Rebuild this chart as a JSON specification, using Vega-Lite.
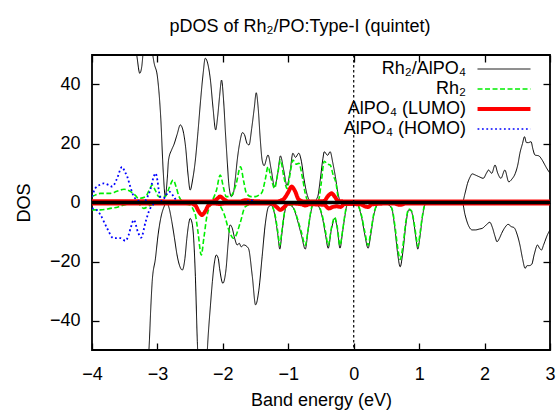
{
  "$schema": "https://vega.github.io/schema/vega-lite/v6.json",
  "width": 458,
  "height": 295,
  "autosize": "none",
  "padding": {"left": 92, "top": 55, "right": 8, "bottom": 60},
  "background": "white",
  "config": {
    "font": "Liberation Sans",
    "view": {"stroke": "black", "strokeWidth": 1.8},
    "axis": {
      "grid": false, "domain": false, "tickColor": "black", "tickSize": -7, "tickWidth": 1.3,
      "labelFont": "Liberation Sans", "labelFontSize": 18, "labelColor": "black",
      "titleFont": "Liberation Sans", "titleFontSize": 18, "titleFontWeight": "normal", "titleColor": "black"
    },
    "legend": {
      "orient": "none", "legendX": 403, "legendY": 5, "padding": 0,
      "labelFont": "Liberation Sans", "labelFontSize": 18, "labelColor": "black",
      "labelAlign": "right", "labelOffset": -47, "labelLimit": 400,
      "symbolType": "M-5,0H5", "symbolSize": 112, "rowPadding": 2, "title": null
    }
  },
  "title": {"text": "pDOS of Rh₂/PO:Type-I (quintet)", "fontSize": 18, "fontWeight": "normal", "font": "Liberation Sans", "color": "black", "anchor": "middle", "dx": -21, "baseline": "alphabetic", "offset": 4},
  "resolve": {"axis": {"x": "independent", "y": "independent"}},
  "datasets": {
    "dos": [
      {"s":"Rh₂/AlPO₄","p":"u","x":-4,"y":70},{"s":"Rh₂/AlPO₄","p":"u","x":-3.6,"y":70},{"s":"Rh₂/AlPO₄","p":"u","x":-3.36,"y":58},{"s":"Rh₂/AlPO₄","p":"u","x":-3.31,"y":49},{"s":"Rh₂/AlPO₄","p":"u","x":-3.27,"y":43.8},{"s":"Rh₂/AlPO₄","p":"u","x":-3.24,"y":46},{"s":"Rh₂/AlPO₄","p":"u","x":-3.21,"y":53},{"s":"Rh₂/AlPO₄","p":"u","x":-3.16,"y":60},{"s":"Rh₂/AlPO₄","p":"u","x":-3.1,"y":54},{"s":"Rh₂/AlPO₄","p":"u","x":-3.05,"y":47.2},{"s":"Rh₂/AlPO₄","p":"u","x":-3.0,"y":42.6},{"s":"Rh₂/AlPO₄","p":"u","x":-2.95,"y":29},{"s":"Rh₂/AlPO₄","p":"u","x":-2.91,"y":10},{"s":"Rh₂/AlPO₄","p":"u","x":-2.88,"y":2},{"s":"Rh₂/AlPO₄","p":"u","x":-2.85,"y":8},{"s":"Rh₂/AlPO₄","p":"u","x":-2.83,"y":14.4},{"s":"Rh₂/AlPO₄","p":"u","x":-2.78,"y":18},{"s":"Rh₂/AlPO₄","p":"u","x":-2.75,"y":19.5},{"s":"Rh₂/AlPO₄","p":"u","x":-2.7,"y":23},{"s":"Rh₂/AlPO₄","p":"u","x":-2.65,"y":26.3},{"s":"Rh₂/AlPO₄","p":"u","x":-2.6,"y":23.5},{"s":"Rh₂/AlPO₄","p":"u","x":-2.57,"y":18.9},{"s":"Rh₂/AlPO₄","p":"u","x":-2.53,"y":9},{"s":"Rh₂/AlPO₄","p":"u","x":-2.5,"y":4.2},{"s":"Rh₂/AlPO₄","p":"u","x":-2.46,"y":8},{"s":"Rh₂/AlPO₄","p":"u","x":-2.42,"y":14.4},{"s":"Rh₂/AlPO₄","p":"u","x":-2.38,"y":24},{"s":"Rh₂/AlPO₄","p":"u","x":-2.34,"y":34.7},{"s":"Rh₂/AlPO₄","p":"u","x":-2.3,"y":44},{"s":"Rh₂/AlPO₄","p":"u","x":-2.27,"y":48.9},{"s":"Rh₂/AlPO₄","p":"u","x":-2.23,"y":47},{"s":"Rh₂/AlPO₄","p":"u","x":-2.19,"y":41.5},{"s":"Rh₂/AlPO₄","p":"u","x":-2.15,"y":32},{"s":"Rh₂/AlPO₄","p":"u","x":-2.11,"y":24.6},{"s":"Rh₂/AlPO₄","p":"u","x":-2.08,"y":29},{"s":"Rh₂/AlPO₄","p":"u","x":-2.05,"y":36},{"s":"Rh₂/AlPO₄","p":"u","x":-2.02,"y":41.5},{"s":"Rh₂/AlPO₄","p":"u","x":-1.99,"y":35},{"s":"Rh₂/AlPO₄","p":"u","x":-1.96,"y":23.5},{"s":"Rh₂/AlPO₄","p":"u","x":-1.93,"y":13},{"s":"Rh₂/AlPO₄","p":"u","x":-1.91,"y":6.5},{"s":"Rh₂/AlPO₄","p":"u","x":-1.87,"y":2},{"s":"Rh₂/AlPO₄","p":"u","x":-1.84,"y":3},{"s":"Rh₂/AlPO₄","p":"u","x":-1.81,"y":8},{"s":"Rh₂/AlPO₄","p":"u","x":-1.78,"y":14.4},{"s":"Rh₂/AlPO₄","p":"u","x":-1.74,"y":20.5},{"s":"Rh₂/AlPO₄","p":"u","x":-1.7,"y":23.7},{"s":"Rh₂/AlPO₄","p":"u","x":-1.67,"y":23},{"s":"Rh₂/AlPO₄","p":"u","x":-1.63,"y":20},{"s":"Rh₂/AlPO₄","p":"u","x":-1.6,"y":19.5},{"s":"Rh₂/AlPO₄","p":"u","x":-1.56,"y":25},{"s":"Rh₂/AlPO₄","p":"u","x":-1.52,"y":32},{"s":"Rh₂/AlPO₄","p":"u","x":-1.49,"y":37.2},{"s":"Rh₂/AlPO₄","p":"u","x":-1.46,"y":32},{"s":"Rh₂/AlPO₄","p":"u","x":-1.43,"y":22},{"s":"Rh₂/AlPO₄","p":"u","x":-1.4,"y":14.4},{"s":"Rh₂/AlPO₄","p":"u","x":-1.37,"y":12.5},{"s":"Rh₂/AlPO₄","p":"u","x":-1.31,"y":16.1},{"s":"Rh₂/AlPO₄","p":"u","x":-1.26,"y":11},{"s":"Rh₂/AlPO₄","p":"u","x":-1.21,"y":5.4},{"s":"Rh₂/AlPO₄","p":"u","x":-1.16,"y":10},{"s":"Rh₂/AlPO₄","p":"u","x":-1.12,"y":15.8},{"s":"Rh₂/AlPO₄","p":"u","x":-1.07,"y":11},{"s":"Rh₂/AlPO₄","p":"u","x":-1.02,"y":5.8},{"s":"Rh₂/AlPO₄","p":"u","x":-0.97,"y":11},{"s":"Rh₂/AlPO₄","p":"u","x":-0.93,"y":16.7},{"s":"Rh₂/AlPO₄","p":"u","x":-0.89,"y":15.3},{"s":"Rh₂/AlPO₄","p":"u","x":-0.84,"y":16.7},{"s":"Rh₂/AlPO₄","p":"u","x":-0.8,"y":14},{"s":"Rh₂/AlPO₄","p":"u","x":-0.76,"y":8},{"s":"Rh₂/AlPO₄","p":"u","x":-0.71,"y":2.5},{"s":"Rh₂/AlPO₄","p":"u","x":-0.66,"y":0.5},{"s":"Rh₂/AlPO₄","p":"u","x":-0.6,"y":0.5},{"s":"Rh₂/AlPO₄","p":"u","x":-0.55,"y":2},{"s":"Rh₂/AlPO₄","p":"u","x":-0.51,"y":8},{"s":"Rh₂/AlPO₄","p":"u","x":-0.47,"y":15},{"s":"Rh₂/AlPO₄","p":"u","x":-0.45,"y":17.2},{"s":"Rh₂/AlPO₄","p":"u","x":-0.4,"y":16},{"s":"Rh₂/AlPO₄","p":"u","x":-0.36,"y":17.2},{"s":"Rh₂/AlPO₄","p":"u","x":-0.32,"y":13.5},{"s":"Rh₂/AlPO₄","p":"u","x":-0.28,"y":8.7},{"s":"Rh₂/AlPO₄","p":"u","x":-0.24,"y":3},{"s":"Rh₂/AlPO₄","p":"u","x":-0.2,"y":0.3},{"s":"Rh₂/AlPO₄","p":"u","x":-0.1,"y":0},{"s":"Rh₂/AlPO₄","p":"u","x":1.66,"y":0},{"s":"Rh₂/AlPO₄","p":"u","x":1.7,"y":3},{"s":"Rh₂/AlPO₄","p":"u","x":1.74,"y":6.5},{"s":"Rh₂/AlPO₄","p":"u","x":1.78,"y":8.7},{"s":"Rh₂/AlPO₄","p":"u","x":1.81,"y":9.7},{"s":"Rh₂/AlPO₄","p":"u","x":1.86,"y":9.3},{"s":"Rh₂/AlPO₄","p":"u","x":1.92,"y":8.7},{"s":"Rh₂/AlPO₄","p":"u","x":1.98,"y":8.2},{"s":"Rh₂/AlPO₄","p":"u","x":2.03,"y":10},{"s":"Rh₂/AlPO₄","p":"u","x":2.06,"y":11},{"s":"Rh₂/AlPO₄","p":"u","x":2.11,"y":9.9},{"s":"Rh₂/AlPO₄","p":"u","x":2.16,"y":12.7},{"s":"Rh₂/AlPO₄","p":"u","x":2.2,"y":10},{"s":"Rh₂/AlPO₄","p":"u","x":2.25,"y":8.2},{"s":"Rh₂/AlPO₄","p":"u","x":2.31,"y":11},{"s":"Rh₂/AlPO₄","p":"u","x":2.37,"y":7},{"s":"Rh₂/AlPO₄","p":"u","x":2.42,"y":8},{"s":"Rh₂/AlPO₄","p":"u","x":2.47,"y":9.9},{"s":"Rh₂/AlPO₄","p":"u","x":2.51,"y":13},{"s":"Rh₂/AlPO₄","p":"u","x":2.54,"y":16.7},{"s":"Rh₂/AlPO₄","p":"u","x":2.58,"y":20},{"s":"Rh₂/AlPO₄","p":"u","x":2.61,"y":22.3},{"s":"Rh₂/AlPO₄","p":"u","x":2.64,"y":20.3},{"s":"Rh₂/AlPO₄","p":"u","x":2.67,"y":20.3},{"s":"Rh₂/AlPO₄","p":"u","x":2.71,"y":20.6},{"s":"Rh₂/AlPO₄","p":"u","x":2.74,"y":18},{"s":"Rh₂/AlPO₄","p":"u","x":2.77,"y":16.1},{"s":"Rh₂/AlPO₄","p":"u","x":2.83,"y":15.8},{"s":"Rh₂/AlPO₄","p":"u","x":2.88,"y":14.4},{"s":"Rh₂/AlPO₄","p":"u","x":2.92,"y":12.8},{"s":"Rh₂/AlPO₄","p":"u","x":2.95,"y":11.6},{"s":"Rh₂/AlPO₄","p":"u","x":3.0,"y":9.9},

      {"s":"Rh₂/AlPO₄","p":"d","x":-4,"y":-70},{"s":"Rh₂/AlPO₄","p":"d","x":-3.5,"y":-70},{"s":"Rh₂/AlPO₄","p":"d","x":-3.2,"y":-65},{"s":"Rh₂/AlPO₄","p":"d","x":-3.15,"y":-55},{"s":"Rh₂/AlPO₄","p":"d","x":-3.13,"y":-50},{"s":"Rh₂/AlPO₄","p":"d","x":-3.1,"y":-35},{"s":"Rh₂/AlPO₄","p":"d","x":-3.08,"y":-26.8},{"s":"Rh₂/AlPO₄","p":"d","x":-3.03,"y":-18.9},{"s":"Rh₂/AlPO₄","p":"d","x":-2.99,"y":-11},{"s":"Rh₂/AlPO₄","p":"d","x":-2.95,"y":-5.4},{"s":"Rh₂/AlPO₄","p":"d","x":-2.9,"y":-1.5},{"s":"Rh₂/AlPO₄","p":"d","x":-2.86,"y":0},{"s":"Rh₂/AlPO₄","p":"d","x":-2.82,"y":-2},{"s":"Rh₂/AlPO₄","p":"d","x":-2.78,"y":-6.5},{"s":"Rh₂/AlPO₄","p":"d","x":-2.74,"y":-12},{"s":"Rh₂/AlPO₄","p":"d","x":-2.7,"y":-17.8},{"s":"Rh₂/AlPO₄","p":"d","x":-2.66,"y":-21.5},{"s":"Rh₂/AlPO₄","p":"d","x":-2.62,"y":-22.9},{"s":"Rh₂/AlPO₄","p":"d","x":-2.58,"y":-19},{"s":"Rh₂/AlPO₄","p":"d","x":-2.55,"y":-12.1},{"s":"Rh₂/AlPO₄","p":"d","x":-2.52,"y":-7},{"s":"Rh₂/AlPO₄","p":"d","x":-2.5,"y":-5.4},{"s":"Rh₂/AlPO₄","p":"d","x":-2.47,"y":-7},{"s":"Rh₂/AlPO₄","p":"d","x":-2.45,"y":-11},{"s":"Rh₂/AlPO₄","p":"d","x":-2.42,"y":-25},{"s":"Rh₂/AlPO₄","p":"d","x":-2.39,"y":-47.2},{"s":"Rh₂/AlPO₄","p":"d","x":-2.36,"y":-60},{"s":"Rh₂/AlPO₄","p":"d","x":-2.3,"y":-70},{"s":"Rh₂/AlPO₄","p":"d","x":-2.26,"y":-60},{"s":"Rh₂/AlPO₄","p":"d","x":-2.23,"y":-47.2},{"s":"Rh₂/AlPO₄","p":"d","x":-2.19,"y":-35},{"s":"Rh₂/AlPO₄","p":"d","x":-2.16,"y":-26.8},{"s":"Rh₂/AlPO₄","p":"d","x":-2.13,"y":-20.5},{"s":"Rh₂/AlPO₄","p":"d","x":-2.1,"y":-17.8},{"s":"Rh₂/AlPO₄","p":"d","x":-2.07,"y":-19},{"s":"Rh₂/AlPO₄","p":"d","x":-2.05,"y":-22.3},{"s":"Rh₂/AlPO₄","p":"d","x":-2.0,"y":-27.4},{"s":"Rh₂/AlPO₄","p":"d","x":-1.97,"y":-25.5},{"s":"Rh₂/AlPO₄","p":"d","x":-1.95,"y":-22.3},{"s":"Rh₂/AlPO₄","p":"d","x":-1.92,"y":-14},{"s":"Rh₂/AlPO₄","p":"d","x":-1.89,"y":-7.6},{"s":"Rh₂/AlPO₄","p":"d","x":-1.86,"y":-8.5},{"s":"Rh₂/AlPO₄","p":"d","x":-1.82,"y":-12.1},{"s":"Rh₂/AlPO₄","p":"d","x":-1.78,"y":-14.4},{"s":"Rh₂/AlPO₄","p":"d","x":-1.75,"y":-13.8},{"s":"Rh₂/AlPO₄","p":"d","x":-1.72,"y":-15},{"s":"Rh₂/AlPO₄","p":"d","x":-1.68,"y":-14.4},{"s":"Rh₂/AlPO₄","p":"d","x":-1.61,"y":-15.5},{"s":"Rh₂/AlPO₄","p":"d","x":-1.55,"y":-25},{"s":"Rh₂/AlPO₄","p":"d","x":-1.5,"y":-34.7},{"s":"Rh₂/AlPO₄","p":"d","x":-1.45,"y":-29.7},{"s":"Rh₂/AlPO₄","p":"d","x":-1.4,"y":-18.4},{"s":"Rh₂/AlPO₄","p":"d","x":-1.35,"y":-7},{"s":"Rh₂/AlPO₄","p":"d","x":-1.3,"y":-1.4},{"s":"Rh₂/AlPO₄","p":"d","x":-1.26,"y":-1},{"s":"Rh₂/AlPO₄","p":"d","x":-1.2,"y":-5},{"s":"Rh₂/AlPO₄","p":"d","x":-1.16,"y":-11},{"s":"Rh₂/AlPO₄","p":"d","x":-1.13,"y":-15.8},{"s":"Rh₂/AlPO₄","p":"d","x":-1.1,"y":-11},{"s":"Rh₂/AlPO₄","p":"d","x":-1.06,"y":-4},{"s":"Rh₂/AlPO₄","p":"d","x":-1.02,"y":-0.8},{"s":"Rh₂/AlPO₄","p":"d","x":-0.96,"y":-1},{"s":"Rh₂/AlPO₄","p":"d","x":-0.9,"y":-3},{"s":"Rh₂/AlPO₄","p":"d","x":-0.86,"y":-6},{"s":"Rh₂/AlPO₄","p":"d","x":-0.8,"y":-11},{"s":"Rh₂/AlPO₄","p":"d","x":-0.74,"y":-15.8},{"s":"Rh₂/AlPO₄","p":"d","x":-0.7,"y":-10},{"s":"Rh₂/AlPO₄","p":"d","x":-0.66,"y":-4},{"s":"Rh₂/AlPO₄","p":"d","x":-0.62,"y":-0.5},{"s":"Rh₂/AlPO₄","p":"d","x":-0.55,"y":-1},{"s":"Rh₂/AlPO₄","p":"d","x":-0.48,"y":-5},{"s":"Rh₂/AlPO₄","p":"d","x":-0.43,"y":-11},{"s":"Rh₂/AlPO₄","p":"d","x":-0.39,"y":-15.5},{"s":"Rh₂/AlPO₄","p":"d","x":-0.34,"y":-9},{"s":"Rh₂/AlPO₄","p":"d","x":-0.29,"y":-5.4},{"s":"Rh₂/AlPO₄","p":"d","x":-0.25,"y":-9},{"s":"Rh₂/AlPO₄","p":"d","x":-0.21,"y":-15.5},{"s":"Rh₂/AlPO₄","p":"d","x":-0.17,"y":-10},{"s":"Rh₂/AlPO₄","p":"d","x":-0.13,"y":-4},{"s":"Rh₂/AlPO₄","p":"d","x":-0.1,"y":-0.8},{"s":"Rh₂/AlPO₄","p":"d","x":0.05,"y":-0.8},{"s":"Rh₂/AlPO₄","p":"d","x":0.12,"y":-5},{"s":"Rh₂/AlPO₄","p":"d","x":0.17,"y":-11},{"s":"Rh₂/AlPO₄","p":"d","x":0.22,"y":-15.5},{"s":"Rh₂/AlPO₄","p":"d","x":0.26,"y":-11},{"s":"Rh₂/AlPO₄","p":"d","x":0.31,"y":-4},{"s":"Rh₂/AlPO₄","p":"d","x":0.38,"y":-0.5},{"s":"Rh₂/AlPO₄","p":"d","x":0.5,"y":-0.5},{"s":"Rh₂/AlPO₄","p":"d","x":0.58,"y":-2},{"s":"Rh₂/AlPO₄","p":"d","x":0.63,"y":-9},{"s":"Rh₂/AlPO₄","p":"d","x":0.67,"y":-17},{"s":"Rh₂/AlPO₄","p":"d","x":0.71,"y":-21.8},{"s":"Rh₂/AlPO₄","p":"d","x":0.75,"y":-17},{"s":"Rh₂/AlPO₄","p":"d","x":0.8,"y":-7},{"s":"Rh₂/AlPO₄","p":"d","x":0.84,"y":-2.5},{"s":"Rh₂/AlPO₄","p":"d","x":0.88,"y":-3},{"s":"Rh₂/AlPO₄","p":"d","x":0.92,"y":-7},{"s":"Rh₂/AlPO₄","p":"d","x":0.95,"y":-12},{"s":"Rh₂/AlPO₄","p":"d","x":0.98,"y":-15.8},{"s":"Rh₂/AlPO₄","p":"d","x":1.01,"y":-12},{"s":"Rh₂/AlPO₄","p":"d","x":1.05,"y":-5},{"s":"Rh₂/AlPO₄","p":"d","x":1.09,"y":-0.8},{"s":"Rh₂/AlPO₄","p":"d","x":1.15,"y":0},{"s":"Rh₂/AlPO₄","p":"d","x":1.66,"y":0},{"s":"Rh₂/AlPO₄","p":"d","x":1.7,"y":-4},{"s":"Rh₂/AlPO₄","p":"d","x":1.75,"y":-7.6},{"s":"Rh₂/AlPO₄","p":"d","x":1.81,"y":-9.3},{"s":"Rh₂/AlPO₄","p":"d","x":1.86,"y":-9.3},{"s":"Rh₂/AlPO₄","p":"d","x":1.92,"y":-9},{"s":"Rh₂/AlPO₄","p":"d","x":1.97,"y":-8.7},{"s":"Rh₂/AlPO₄","p":"d","x":2.03,"y":-7.5},{"s":"Rh₂/AlPO₄","p":"d","x":2.08,"y":-6.7},{"s":"Rh₂/AlPO₄","p":"d","x":2.12,"y":-8.5},{"s":"Rh₂/AlPO₄","p":"d","x":2.16,"y":-11.5},{"s":"Rh₂/AlPO₄","p":"d","x":2.19,"y":-13.3},{"s":"Rh₂/AlPO₄","p":"d","x":2.23,"y":-12},{"s":"Rh₂/AlPO₄","p":"d","x":2.26,"y":-10.5},{"s":"Rh₂/AlPO₄","p":"d","x":2.31,"y":-8.5},{"s":"Rh₂/AlPO₄","p":"d","x":2.36,"y":-7.4},{"s":"Rh₂/AlPO₄","p":"d","x":2.41,"y":-8.2},{"s":"Rh₂/AlPO₄","p":"d","x":2.45,"y":-8.5},{"s":"Rh₂/AlPO₄","p":"d","x":2.5,"y":-11},{"s":"Rh₂/AlPO₄","p":"d","x":2.54,"y":-14.4},{"s":"Rh₂/AlPO₄","p":"d","x":2.58,"y":-19},{"s":"Rh₂/AlPO₄","p":"d","x":2.62,"y":-22.3},{"s":"Rh₂/AlPO₄","p":"d","x":2.65,"y":-21.4},{"s":"Rh₂/AlPO₄","p":"d","x":2.68,"y":-21.4},{"s":"Rh₂/AlPO₄","p":"d","x":2.72,"y":-21},{"s":"Rh₂/AlPO₄","p":"d","x":2.76,"y":-17.5},{"s":"Rh₂/AlPO₄","p":"d","x":2.81,"y":-14.4},{"s":"Rh₂/AlPO₄","p":"d","x":2.84,"y":-15.5},{"s":"Rh₂/AlPO₄","p":"d","x":2.87,"y":-16.1},{"s":"Rh₂/AlPO₄","p":"d","x":2.9,"y":-14.5},{"s":"Rh₂/AlPO₄","p":"d","x":2.92,"y":-13.3},{"s":"Rh₂/AlPO₄","p":"d","x":2.96,"y":-11},{"s":"Rh₂/AlPO₄","p":"d","x":3.0,"y":-9.3},

      {"s":"Rh₂","p":"u","x":-4,"y":2},{"s":"Rh₂","p":"u","x":-3.95,"y":2.5},{"s":"Rh₂","p":"u","x":-3.87,"y":3.1},{"s":"Rh₂","p":"u","x":-3.72,"y":3.1},{"s":"Rh₂","p":"u","x":-3.62,"y":3.8},{"s":"Rh₂","p":"u","x":-3.51,"y":4.5},{"s":"Rh₂","p":"u","x":-3.41,"y":3.7},{"s":"Rh₂","p":"u","x":-3.34,"y":2.5},{"s":"Rh₂","p":"u","x":-3.29,"y":1.4},{"s":"Rh₂","p":"u","x":-3.18,"y":2},{"s":"Rh₂","p":"u","x":-3.13,"y":4},{"s":"Rh₂","p":"u","x":-3.08,"y":5.9},{"s":"Rh₂","p":"u","x":-3.03,"y":4},{"s":"Rh₂","p":"u","x":-2.98,"y":2},{"s":"Rh₂","p":"u","x":-2.88,"y":2},{"s":"Rh₂","p":"u","x":-2.82,"y":5},{"s":"Rh₂","p":"u","x":-2.76,"y":7.6},{"s":"Rh₂","p":"u","x":-2.71,"y":5},{"s":"Rh₂","p":"u","x":-2.67,"y":2},{"s":"Rh₂","p":"u","x":-2.6,"y":0.3},{"s":"Rh₂","p":"u","x":-2.3,"y":0.3},{"s":"Rh₂","p":"u","x":-2.18,"y":0.6},{"s":"Rh₂","p":"u","x":-2.1,"y":4},{"s":"Rh₂","p":"u","x":-2.04,"y":9.3},{"s":"Rh₂","p":"u","x":-1.99,"y":5},{"s":"Rh₂","p":"u","x":-1.95,"y":2},{"s":"Rh₂","p":"u","x":-1.89,"y":2},{"s":"Rh₂","p":"u","x":-1.8,"y":6},{"s":"Rh₂","p":"u","x":-1.73,"y":12.1},{"s":"Rh₂","p":"u","x":-1.68,"y":7},{"s":"Rh₂","p":"u","x":-1.64,"y":3.1},{"s":"Rh₂","p":"u","x":-1.57,"y":2},{"s":"Rh₂","p":"u","x":-1.5,"y":2},{"s":"Rh₂","p":"u","x":-1.45,"y":2.5},{"s":"Rh₂","p":"u","x":-1.4,"y":3.5},{"s":"Rh₂","p":"u","x":-1.35,"y":8},{"s":"Rh₂","p":"u","x":-1.31,"y":12.1},{"s":"Rh₂","p":"u","x":-1.26,"y":8},{"s":"Rh₂","p":"u","x":-1.21,"y":4.8},{"s":"Rh₂","p":"u","x":-1.16,"y":10},{"s":"Rh₂","p":"u","x":-1.12,"y":14.4},{"s":"Rh₂","p":"u","x":-1.07,"y":9},{"s":"Rh₂","p":"u","x":-1.02,"y":4.8},{"s":"Rh₂","p":"u","x":-0.97,"y":10},{"s":"Rh₂","p":"u","x":-0.93,"y":14.4},{"s":"Rh₂","p":"u","x":-0.88,"y":13},{"s":"Rh₂","p":"u","x":-0.84,"y":13.3},{"s":"Rh₂","p":"u","x":-0.78,"y":8},{"s":"Rh₂","p":"u","x":-0.74,"y":3},{"s":"Rh₂","p":"u","x":-0.7,"y":0.7},{"s":"Rh₂","p":"u","x":-0.54,"y":0.7},{"s":"Rh₂","p":"u","x":-0.5,"y":6},{"s":"Rh₂","p":"u","x":-0.45,"y":14},{"s":"Rh₂","p":"u","x":-0.4,"y":13},{"s":"Rh₂","p":"u","x":-0.36,"y":12.7},{"s":"Rh₂","p":"u","x":-0.31,"y":9},{"s":"Rh₂","p":"u","x":-0.27,"y":6.5},{"s":"Rh₂","p":"u","x":-0.24,"y":2},{"s":"Rh₂","p":"u","x":-0.21,"y":0},{"s":"Rh₂","p":"u","x":3,"y":0},

      {"s":"Rh₂","p":"d","x":-4,"y":-2.5},{"s":"Rh₂","p":"d","x":-3.87,"y":-2.5},{"s":"Rh₂","p":"d","x":-3.72,"y":-2},{"s":"Rh₂","p":"d","x":-3.6,"y":-1.5},{"s":"Rh₂","p":"d","x":-3.51,"y":-0.8},{"s":"Rh₂","p":"d","x":-3.4,"y":-0.5},{"s":"Rh₂","p":"d","x":-3.3,"y":-0.3},{"s":"Rh₂","p":"d","x":-3.21,"y":-2},{"s":"Rh₂","p":"d","x":-3.12,"y":-1},{"s":"Rh₂","p":"d","x":-3.0,"y":-0.5},{"s":"Rh₂","p":"d","x":-2.6,"y":-0.5},{"s":"Rh₂","p":"d","x":-2.5,"y":-0.8},{"s":"Rh₂","p":"d","x":-2.45,"y":-2.5},{"s":"Rh₂","p":"d","x":-2.42,"y":-4.2},{"s":"Rh₂","p":"d","x":-2.38,"y":-10},{"s":"Rh₂","p":"d","x":-2.33,"y":-17.8},{"s":"Rh₂","p":"d","x":-2.29,"y":-12},{"s":"Rh₂","p":"d","x":-2.24,"y":-4.2},{"s":"Rh₂","p":"d","x":-2.15,"y":0},{"s":"Rh₂","p":"d","x":-2.05,"y":-1},{"s":"Rh₂","p":"d","x":-1.98,"y":-4},{"s":"Rh₂","p":"d","x":-1.9,"y":-9.9},{"s":"Rh₂","p":"d","x":-1.84,"y":-12.1},{"s":"Rh₂","p":"d","x":-1.81,"y":-11.6},{"s":"Rh₂","p":"d","x":-1.73,"y":-6.5},{"s":"Rh₂","p":"d","x":-1.66,"y":-1.5},{"s":"Rh₂","p":"d","x":-1.55,"y":-0.5},{"s":"Rh₂","p":"d","x":-1.3,"y":-0.5},{"s":"Rh₂","p":"d","x":-1.26,"y":-0.8},{"s":"Rh₂","p":"d","x":-1.2,"y":-4.5},{"s":"Rh₂","p":"d","x":-1.16,"y":-10},{"s":"Rh₂","p":"d","x":-1.13,"y":-14.5},{"s":"Rh₂","p":"d","x":-1.1,"y":-10},{"s":"Rh₂","p":"d","x":-1.06,"y":-3.5},{"s":"Rh₂","p":"d","x":-1.02,"y":-0.6},{"s":"Rh₂","p":"d","x":-0.96,"y":-0.8},{"s":"Rh₂","p":"d","x":-0.9,"y":-2.8},{"s":"Rh₂","p":"d","x":-0.86,"y":-5.5},{"s":"Rh₂","p":"d","x":-0.8,"y":-10},{"s":"Rh₂","p":"d","x":-0.74,"y":-14.5},{"s":"Rh₂","p":"d","x":-0.7,"y":-9.5},{"s":"Rh₂","p":"d","x":-0.66,"y":-3.5},{"s":"Rh₂","p":"d","x":-0.62,"y":-0.4},{"s":"Rh₂","p":"d","x":-0.55,"y":-0.8},{"s":"Rh₂","p":"d","x":-0.48,"y":-4.5},{"s":"Rh₂","p":"d","x":-0.43,"y":-10},{"s":"Rh₂","p":"d","x":-0.39,"y":-14.5},{"s":"Rh₂","p":"d","x":-0.34,"y":-8.5},{"s":"Rh₂","p":"d","x":-0.29,"y":-5},{"s":"Rh₂","p":"d","x":-0.25,"y":-8.5},{"s":"Rh₂","p":"d","x":-0.21,"y":-14.5},{"s":"Rh₂","p":"d","x":-0.17,"y":-9.5},{"s":"Rh₂","p":"d","x":-0.13,"y":-3.5},{"s":"Rh₂","p":"d","x":-0.1,"y":-0.6},{"s":"Rh₂","p":"d","x":0.05,"y":-0.6},{"s":"Rh₂","p":"d","x":0.12,"y":-4.5},{"s":"Rh₂","p":"d","x":0.17,"y":-10},{"s":"Rh₂","p":"d","x":0.22,"y":-14.5},{"s":"Rh₂","p":"d","x":0.26,"y":-10},{"s":"Rh₂","p":"d","x":0.31,"y":-3.5},{"s":"Rh₂","p":"d","x":0.38,"y":-0.4},{"s":"Rh₂","p":"d","x":0.5,"y":-0.4},{"s":"Rh₂","p":"d","x":0.58,"y":-1.8},{"s":"Rh₂","p":"d","x":0.63,"y":-8},{"s":"Rh₂","p":"d","x":0.67,"y":-15},{"s":"Rh₂","p":"d","x":0.71,"y":-19.3},{"s":"Rh₂","p":"d","x":0.75,"y":-15},{"s":"Rh₂","p":"d","x":0.8,"y":-6},{"s":"Rh₂","p":"d","x":0.84,"y":-2.2},{"s":"Rh₂","p":"d","x":0.88,"y":-2.7},{"s":"Rh₂","p":"d","x":0.92,"y":-6.5},{"s":"Rh₂","p":"d","x":0.95,"y":-11},{"s":"Rh₂","p":"d","x":0.98,"y":-14.8},{"s":"Rh₂","p":"d","x":1.01,"y":-11},{"s":"Rh₂","p":"d","x":1.05,"y":-4.5},{"s":"Rh₂","p":"d","x":1.09,"y":-0.6},{"s":"Rh₂","p":"d","x":1.15,"y":0},{"s":"Rh₂","p":"d","x":3,"y":0},

      {"s":"AlPO₄ (LUMO)","p":"u","x":-4,"y":0.4},{"s":"AlPO₄ (LUMO)","p":"u","x":-3.0,"y":0.4},{"s":"AlPO₄ (LUMO)","p":"u","x":-2.6,"y":0.3},{"s":"AlPO₄ (LUMO)","p":"u","x":-2.2,"y":0.3},{"s":"AlPO₄ (LUMO)","p":"u","x":-2.1,"y":1},{"s":"AlPO₄ (LUMO)","p":"u","x":-2.04,"y":2},{"s":"AlPO₄ (LUMO)","p":"u","x":-1.98,"y":1},{"s":"AlPO₄ (LUMO)","p":"u","x":-1.9,"y":0.3},{"s":"AlPO₄ (LUMO)","p":"u","x":-1.75,"y":0.3},{"s":"AlPO₄ (LUMO)","p":"u","x":-1.65,"y":0.8},{"s":"AlPO₄ (LUMO)","p":"u","x":-1.55,"y":0.5},{"s":"AlPO₄ (LUMO)","p":"u","x":-1.2,"y":0.3},{"s":"AlPO₄ (LUMO)","p":"u","x":-1.08,"y":1},{"s":"AlPO₄ (LUMO)","p":"u","x":-1.0,"y":3.5},{"s":"AlPO₄ (LUMO)","p":"u","x":-0.95,"y":5.4},{"s":"AlPO₄ (LUMO)","p":"u","x":-0.9,"y":4},{"s":"AlPO₄ (LUMO)","p":"u","x":-0.84,"y":1},{"s":"AlPO₄ (LUMO)","p":"u","x":-0.75,"y":0.3},{"s":"AlPO₄ (LUMO)","p":"u","x":-0.45,"y":0.5},{"s":"AlPO₄ (LUMO)","p":"u","x":-0.4,"y":2},{"s":"AlPO₄ (LUMO)","p":"u","x":-0.34,"y":3.1},{"s":"AlPO₄ (LUMO)","p":"u","x":-0.29,"y":2},{"s":"AlPO₄ (LUMO)","p":"u","x":-0.24,"y":0.5},{"s":"AlPO₄ (LUMO)","p":"u","x":0.0,"y":0.3},{"s":"AlPO₄ (LUMO)","p":"u","x":3,"y":0.3},

      {"s":"AlPO₄ (LUMO)","p":"d","x":-4,"y":-0.3},{"s":"AlPO₄ (LUMO)","p":"d","x":-2.5,"y":-0.3},{"s":"AlPO₄ (LUMO)","p":"d","x":-2.42,"y":-1},{"s":"AlPO₄ (LUMO)","p":"d","x":-2.37,"y":-3},{"s":"AlPO₄ (LUMO)","p":"d","x":-2.32,"y":-4.2},{"s":"AlPO₄ (LUMO)","p":"d","x":-2.27,"y":-3},{"s":"AlPO₄ (LUMO)","p":"d","x":-2.22,"y":-1},{"s":"AlPO₄ (LUMO)","p":"d","x":-2.15,"y":-0.3},{"s":"AlPO₄ (LUMO)","p":"d","x":-2.05,"y":-0.5},{"s":"AlPO₄ (LUMO)","p":"d","x":-1.95,"y":-0.3},{"s":"AlPO₄ (LUMO)","p":"d","x":-1.25,"y":-0.3},{"s":"AlPO₄ (LUMO)","p":"d","x":-1.18,"y":-1.5},{"s":"AlPO₄ (LUMO)","p":"d","x":-1.12,"y":-2.5},{"s":"AlPO₄ (LUMO)","p":"d","x":-1.06,"y":-1.5},{"s":"AlPO₄ (LUMO)","p":"d","x":-1.0,"y":-0.3},{"s":"AlPO₄ (LUMO)","p":"d","x":-0.8,"y":-0.6},{"s":"AlPO₄ (LUMO)","p":"d","x":-0.74,"y":-1},{"s":"AlPO₄ (LUMO)","p":"d","x":-0.68,"y":-0.6},{"s":"AlPO₄ (LUMO)","p":"d","x":-0.45,"y":-0.8},{"s":"AlPO₄ (LUMO)","p":"d","x":-0.38,"y":-2},{"s":"AlPO₄ (LUMO)","p":"d","x":-0.32,"y":-1.5},{"s":"AlPO₄ (LUMO)","p":"d","x":-0.26,"y":-1.3},{"s":"AlPO₄ (LUMO)","p":"d","x":-0.2,"y":-1.5},{"s":"AlPO₄ (LUMO)","p":"d","x":-0.14,"y":-0.5},{"s":"AlPO₄ (LUMO)","p":"d","x":0.1,"y":-0.6},{"s":"AlPO₄ (LUMO)","p":"d","x":0.17,"y":-1.3},{"s":"AlPO₄ (LUMO)","p":"d","x":0.22,"y":-1.5},{"s":"AlPO₄ (LUMO)","p":"d","x":0.28,"y":-0.6},{"s":"AlPO₄ (LUMO)","p":"d","x":0.6,"y":-0.3},{"s":"AlPO₄ (LUMO)","p":"d","x":0.71,"y":-0.8},{"s":"AlPO₄ (LUMO)","p":"d","x":0.8,"y":-0.3},{"s":"AlPO₄ (LUMO)","p":"d","x":3,"y":-0.3},

      {"s":"AlPO₄ (HOMO)","p":"u","x":-4,"y":2},{"s":"AlPO₄ (HOMO)","p":"u","x":-3.95,"y":4.8},{"s":"AlPO₄ (HOMO)","p":"u","x":-3.88,"y":6},{"s":"AlPO₄ (HOMO)","p":"u","x":-3.82,"y":6.5},{"s":"AlPO₄ (HOMO)","p":"u","x":-3.75,"y":6},{"s":"AlPO₄ (HOMO)","p":"u","x":-3.69,"y":5.4},{"s":"AlPO₄ (HOMO)","p":"u","x":-3.62,"y":8},{"s":"AlPO₄ (HOMO)","p":"u","x":-3.54,"y":12.1},{"s":"AlPO₄ (HOMO)","p":"u","x":-3.5,"y":10.5},{"s":"AlPO₄ (HOMO)","p":"u","x":-3.46,"y":8.7},{"s":"AlPO₄ (HOMO)","p":"u","x":-3.41,"y":5},{"s":"AlPO₄ (HOMO)","p":"u","x":-3.36,"y":2},{"s":"AlPO₄ (HOMO)","p":"u","x":-3.28,"y":0.5},{"s":"AlPO₄ (HOMO)","p":"u","x":-3.21,"y":0},{"s":"AlPO₄ (HOMO)","p":"u","x":-3.15,"y":2},{"s":"AlPO₄ (HOMO)","p":"u","x":-3.11,"y":4.2},{"s":"AlPO₄ (HOMO)","p":"u","x":-3.06,"y":8.5},{"s":"AlPO₄ (HOMO)","p":"u","x":-3.03,"y":9.9},{"s":"AlPO₄ (HOMO)","p":"u","x":-3.0,"y":7.5},{"s":"AlPO₄ (HOMO)","p":"u","x":-2.98,"y":4.2},{"s":"AlPO₄ (HOMO)","p":"u","x":-2.93,"y":0.5},{"s":"AlPO₄ (HOMO)","p":"u","x":-2.87,"y":2.5},{"s":"AlPO₄ (HOMO)","p":"u","x":-2.82,"y":3.7},{"s":"AlPO₄ (HOMO)","p":"u","x":-2.75,"y":2},{"s":"AlPO₄ (HOMO)","p":"u","x":-2.68,"y":0},{"s":"AlPO₄ (HOMO)","p":"u","x":-1.65,"y":0},{"s":"AlPO₄ (HOMO)","p":"u","x":-1.58,"y":0.8},{"s":"AlPO₄ (HOMO)","p":"u","x":-1.52,"y":0.3},{"s":"AlPO₄ (HOMO)","p":"u","x":-1.45,"y":0},{"s":"AlPO₄ (HOMO)","p":"u","x":3,"y":0},

      {"s":"AlPO₄ (HOMO)","p":"d","x":-4,"y":-2},{"s":"AlPO₄ (HOMO)","p":"d","x":-3.93,"y":-2.5},{"s":"AlPO₄ (HOMO)","p":"d","x":-3.87,"y":-4.2},{"s":"AlPO₄ (HOMO)","p":"d","x":-3.77,"y":-8.7},{"s":"AlPO₄ (HOMO)","p":"d","x":-3.67,"y":-12.1},{"s":"AlPO₄ (HOMO)","p":"d","x":-3.56,"y":-12.1},{"s":"AlPO₄ (HOMO)","p":"d","x":-3.49,"y":-13},{"s":"AlPO₄ (HOMO)","p":"d","x":-3.44,"y":-11},{"s":"AlPO₄ (HOMO)","p":"d","x":-3.41,"y":-8.7},{"s":"AlPO₄ (HOMO)","p":"d","x":-3.36,"y":-5.9},{"s":"AlPO₄ (HOMO)","p":"d","x":-3.3,"y":-9.9},{"s":"AlPO₄ (HOMO)","p":"d","x":-3.25,"y":-11.9},{"s":"AlPO₄ (HOMO)","p":"d","x":-3.18,"y":-6.5},{"s":"AlPO₄ (HOMO)","p":"d","x":-3.11,"y":-2},{"s":"AlPO₄ (HOMO)","p":"d","x":-3.0,"y":0},{"s":"AlPO₄ (HOMO)","p":"d","x":3,"y":0}
    ],
    "zeroline": [{"y": 0}],
    "fermi": [{"x": 0}]
  },
  "layer": [
    {
      "data": {"name": "dos"},
      "transform": [{"filter": {"field": "s", "equal": "Rh₂/AlPO₄"}}],
      "mark": {"type": "line", "clip": true, "interpolate": "monotone", "strokeWidth": 1},
      "encoding": {
        "x": {"field": "x", "type": "quantitative", "scale": {"domain": [-4, 3], "nice": false, "zero": false}, "axis": {"title": "Band energy (eV)", "values": [-4, -3, -2, -1, 0, 1, 2, 3], "labelPadding": 22, "titlePadding": 8, "labelFlush": false}},
        "y": {"field": "y", "type": "quantitative", "scale": {"domain": [-50, 50], "nice": false}, "axis": {"title": "DOS", "values": [-40, -20, 0, 20, 40], "labelPadding": 19, "titlePadding": 16}},
        "detail": {"field": "p"},
        "color": {"field": "s", "type": "nominal", "scale": {"domain": ["Rh₂/AlPO₄", "Rh₂", "AlPO₄ (LUMO)", "AlPO₄ (HOMO)"], "range": ["#000000", "#00ee00", "#ff0000", "#0000ff"]},
          "legend": {"encode": {"symbols": {"update": {"strokeWidth": {"signal": "datum.value === 'AlPO₄ (LUMO)' ? 4 : (datum.value === 'Rh₂/AlPO₄' ? 1 : 1.7)"}}}}}},
        "strokeDash": {"field": "s", "type": "nominal", "scale": {"domain": ["Rh₂/AlPO₄", "Rh₂", "AlPO₄ (LUMO)", "AlPO₄ (HOMO)"], "range": [[1, 0], [5, 2.5], [1, 0], [1.8, 2.6]]}}
      }
    },
    {
      "data": {"name": "dos"},
      "transform": [{"filter": {"field": "s", "equal": "Rh₂"}}],
      "mark": {"type": "line", "clip": true, "interpolate": "monotone", "strokeWidth": 1.6},
      "encoding": {
        "x": {"field": "x", "type": "quantitative", "axis": {"orient": "top", "labels": false, "title": null, "values": [-4, -3, -2, -1, 0, 1, 2, 3]}},
        "y": {"field": "y", "type": "quantitative", "axis": {"orient": "right", "labels": false, "title": null, "values": [-40, -20, 0, 20, 40]}},
        "detail": {"field": "p"},
        "color": {"field": "s", "type": "nominal"},
        "strokeDash": {"field": "s", "type": "nominal"}
      }
    },
    {
      "data": {"name": "dos"},
      "transform": [{"filter": {"field": "s", "equal": "AlPO₄ (LUMO)"}}],
      "mark": {"type": "line", "clip": true, "interpolate": "monotone", "strokeWidth": 4},
      "encoding": {
        "x": {"field": "x", "type": "quantitative", "axis": null},
        "y": {"field": "y", "type": "quantitative", "axis": null},
        "detail": {"field": "p"},
        "color": {"field": "s", "type": "nominal"},
        "strokeDash": {"field": "s", "type": "nominal"}
      }
    },
    {
      "data": {"name": "dos"},
      "transform": [{"filter": {"field": "s", "equal": "AlPO₄ (HOMO)"}}],
      "mark": {"type": "line", "clip": true, "interpolate": "monotone", "strokeWidth": 1.8},
      "encoding": {
        "x": {"field": "x", "type": "quantitative", "axis": null},
        "y": {"field": "y", "type": "quantitative", "axis": null},
        "detail": {"field": "p"},
        "color": {"field": "s", "type": "nominal"},
        "strokeDash": {"field": "s", "type": "nominal"}
      }
    },
    {
      "data": {"name": "zeroline"},
      "mark": {"type": "rule", "color": "black", "strokeWidth": 3.5},
      "encoding": {"y": {"field": "y", "type": "quantitative", "axis": null}}
    },
    {
      "data": {"name": "fermi"},
      "mark": {"type": "rule", "color": "black", "strokeWidth": 1.2, "strokeDash": [2.5, 2.5]},
      "encoding": {"x": {"field": "x", "type": "quantitative", "axis": null}}
    }
  ]
}
